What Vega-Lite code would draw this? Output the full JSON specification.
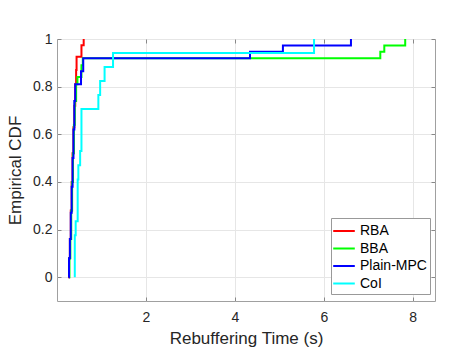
{
  "$schema": "https://vega.github.io/schema/vega-lite/v6.json",
  "width": 378,
  "height": 262,
  "autosize": "none",
  "padding": {"left": 57, "top": 39, "right": 38, "bottom": 54},
  "background": "white",
  "config": {
    "view": {"stroke": "#a0a0a0", "strokeWidth": 1},
    "font": "Liberation Sans",
    "axis": {"labelFont": "Liberation Sans", "titleFont": "Liberation Sans", "labelColor": "#262626", "titleColor": "#262626", "titleFontWeight": "normal", "gridColor": "#e6e6e6", "domain": false, "tickColor": "#888888"}
  },
  "data": {"values": [
    {"method": "RBA", "x": 0.25, "y": 0},
    {"method": "RBA", "x": 0.27, "y": 0.08},
    {"method": "RBA", "x": 0.29, "y": 0.16},
    {"method": "RBA", "x": 0.31, "y": 0.28},
    {"method": "RBA", "x": 0.33, "y": 0.4},
    {"method": "RBA", "x": 0.35, "y": 0.52},
    {"method": "RBA", "x": 0.37, "y": 0.63},
    {"method": "RBA", "x": 0.39, "y": 0.72},
    {"method": "RBA", "x": 0.41, "y": 0.81},
    {"method": "RBA", "x": 0.43, "y": 0.87},
    {"method": "RBA", "x": 0.44, "y": 0.925},
    {"method": "RBA", "x": 0.55, "y": 0.974},
    {"method": "RBA", "x": 0.6, "y": 1},
    {"method": "BBA", "x": 0.27, "y": 0},
    {"method": "BBA", "x": 0.28, "y": 0.08},
    {"method": "BBA", "x": 0.3, "y": 0.16},
    {"method": "BBA", "x": 0.32, "y": 0.28},
    {"method": "BBA", "x": 0.34, "y": 0.4},
    {"method": "BBA", "x": 0.36, "y": 0.52},
    {"method": "BBA", "x": 0.38, "y": 0.64},
    {"method": "BBA", "x": 0.4, "y": 0.74},
    {"method": "BBA", "x": 0.43, "y": 0.81},
    {"method": "BBA", "x": 0.46, "y": 0.84},
    {"method": "BBA", "x": 0.55, "y": 0.89},
    {"method": "BBA", "x": 0.58, "y": 0.919},
    {"method": "BBA", "x": 7.27, "y": 0.946},
    {"method": "BBA", "x": 7.36, "y": 0.973},
    {"method": "BBA", "x": 7.83, "y": 1},
    {"method": "Plain-MPC", "x": 0.26, "y": 0},
    {"method": "Plain-MPC", "x": 0.27, "y": 0.08},
    {"method": "Plain-MPC", "x": 0.29, "y": 0.16},
    {"method": "Plain-MPC", "x": 0.31, "y": 0.27},
    {"method": "Plain-MPC", "x": 0.33, "y": 0.38},
    {"method": "Plain-MPC", "x": 0.35, "y": 0.5},
    {"method": "Plain-MPC", "x": 0.37, "y": 0.62},
    {"method": "Plain-MPC", "x": 0.39, "y": 0.74},
    {"method": "Plain-MPC", "x": 0.41, "y": 0.81},
    {"method": "Plain-MPC", "x": 0.54, "y": 0.865},
    {"method": "Plain-MPC", "x": 0.59, "y": 0.919},
    {"method": "Plain-MPC", "x": 4.34, "y": 0.946},
    {"method": "Plain-MPC", "x": 5.08, "y": 0.973},
    {"method": "Plain-MPC", "x": 6.61, "y": 1},
    {"method": "CoI", "x": 0.4, "y": 0},
    {"method": "CoI", "x": 0.4, "y": 0.176},
    {"method": "CoI", "x": 0.42, "y": 0.235},
    {"method": "CoI", "x": 0.465, "y": 0.41},
    {"method": "CoI", "x": 0.48, "y": 0.47},
    {"method": "CoI", "x": 0.52, "y": 0.53},
    {"method": "CoI", "x": 0.55, "y": 0.706},
    {"method": "CoI", "x": 0.93, "y": 0.765},
    {"method": "CoI", "x": 0.97, "y": 0.824},
    {"method": "CoI", "x": 1.07, "y": 0.882},
    {"method": "CoI", "x": 1.26, "y": 0.941},
    {"method": "CoI", "x": 5.78, "y": 1}
  ]},
  "layer": [
    {
      "mark": {"type": "line", "interpolate": "step-after", "strokeWidth": 2, "clip": true},
      "encoding": {
        "x": {"field": "x", "type": "quantitative", "scale": {"domain": [0, 8.5], "nice": false, "zero": false},
          "axis": {"orient": "bottom", "values": [2, 4, 6, 8], "tickSize": -4, "labelPadding": 13, "labelFontSize": 14, "title": "Rebuffering Time (s)", "titleFontSize": 17, "titlePadding": 6, "grid": true}},
        "y": {"field": "y", "type": "quantitative", "scale": {"domain": [-0.1, 1], "nice": false, "zero": false},
          "axis": {"orient": "left", "values": [0, 0.2, 0.4, 0.6, 0.8, 1], "format": "~g", "tickSize": -4, "labelPadding": 9, "labelFontSize": 14, "title": "Empirical CDF", "titleFontSize": 17, "titlePadding": 8, "grid": true}},
        "color": {"field": "method", "type": "nominal",
          "scale": {"domain": ["RBA", "BBA", "Plain-MPC", "CoI"], "range": ["#ff0000", "#00ff00", "#0000ff", "#00ffff"]},
          "legend": {"orient": "none", "legendX": 274, "legendY": 179, "title": null, "strokeColor": "#999999", "fillColor": "white", "padding": 3, "rowPadding": 0.5, "symbolType": "M-1.2,0H1.2", "symbolSize": 324, "symbolStrokeWidth": 2, "labelFontSize": 14, "labelOffset": 6, "labelColor": "#000000", "labelFont": "Liberation Sans"}},
        "order": {"field": "x", "type": "quantitative"}
      }
    },
    {
      "mark": {"type": "line", "opacity": 0},
      "encoding": {
        "x": {"field": "x", "type": "quantitative", "axis": {"orient": "top", "values": [2, 4, 6, 8], "tickSize": -4, "labels": false, "title": null, "grid": false}},
        "y": {"field": "y", "type": "quantitative", "axis": {"orient": "right", "values": [0, 0.2, 0.4, 0.6, 0.8, 1], "tickSize": -4, "labels": false, "title": null, "grid": false}},
        "detail": {"field": "method"}
      }
    }
  ],
  "resolve": {"axis": {"x": "independent", "y": "independent"}}
}
